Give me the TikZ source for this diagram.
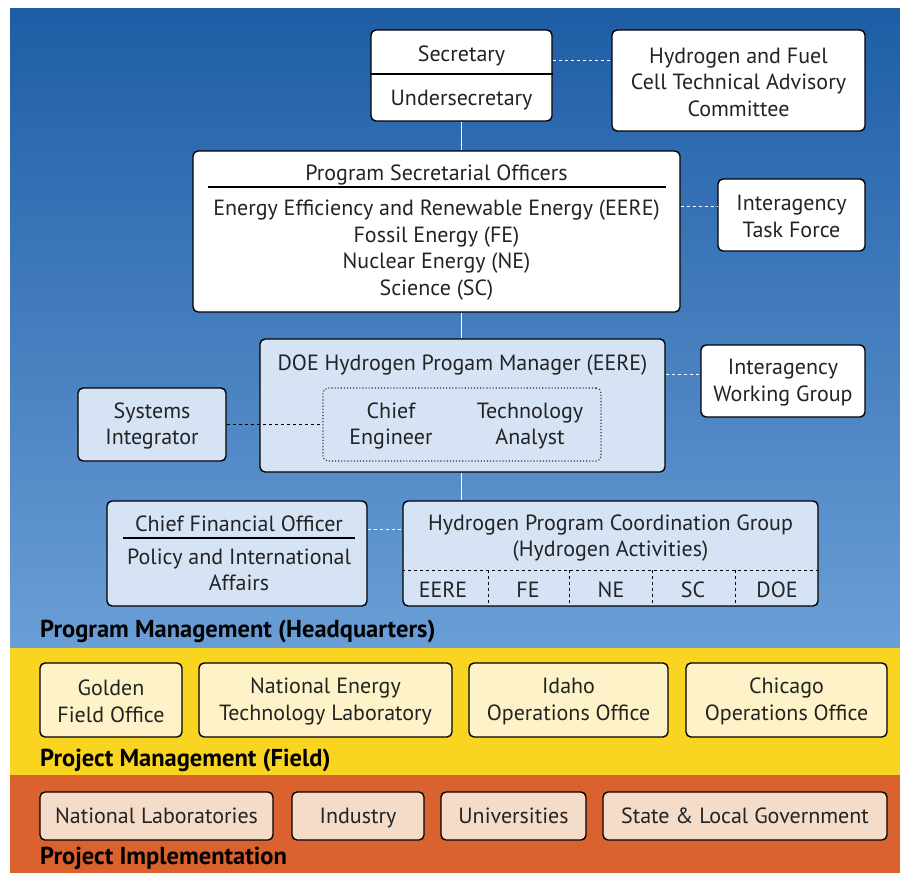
\documentclass[tikz,border=0pt]{standalone}
\usepackage{fontspec}
\setmainfont{PT Sans}
\definecolor{bgtop}{RGB}{30,93,165}
\definecolor{bgbot}{RGB}{106,158,214}
\definecolor{yband}{RGB}{249,212,32}
\definecolor{oband}{RGB}{218,98,46}
\definecolor{lblue}{RGB}{214,227,245}
\definecolor{cream}{RGB}{254,242,200}
\definecolor{peach}{RGB}{245,220,200}
\definecolor{ink}{RGB}{35,35,35}
\begin{document}
\begin{tikzpicture}[x=1pt,y=-1pt,
  box/.style={draw=black, line width=1.4pt, rounded corners=5pt, inner sep=0pt},
  txt/.style={font=\fontsize{22}{26.5}\selectfont, align=center, inner sep=0pt, text=ink},
  tx/.style={txt, yshift=-1.5pt},
  t1/.style={txt, text height=15.4pt, text depth=0pt},
  lbl/.style={font=\fontsize{24.5}{28}\selectfont\bfseries, anchor=west, inner sep=0pt, text=black, text height=16.5pt, text depth=0pt},
  wlink/.style={draw=white, line width=1pt, dash pattern=on 3pt off 3pt},
  kdash/.style={draw=black, line width=1.2pt, dash pattern=on 3pt off 3pt},
  vline/.style={draw=white, line width=1.3pt}]
% background bands
\fill[white] (0,0) rectangle (900,873);
\shade[top color=bgtop, bottom color=bgbot] (10,8) rectangle (900,648);
\fill[yband] (10,648) rectangle (900,775);
\fill[oband] (10,775) rectangle (900,873);

% top level
\node[box, fill=white, minimum width=181pt, minimum height=91pt] (sec) at (461.5,75.5) {};
\draw[line width=1.2pt] (sec.west |- 0,74) -- (sec.east |- 0,74);
\node[t1] (secT) at (461.5,54) {Secretary};
\node[t1] (usecT) at (461.5,98) {Undersecretary};

\node[box, fill=white, minimum width=253pt, minimum height=101pt] (hfc) at (738.5,80.5) {};
\node[tx] (hfcT) at (hfc) {Hydrogen and Fuel\\Cell Technical Advisory\\Committee};

\node[box, fill=white, minimum width=487pt, minimum height=161pt] (pso) at (436.5,231.5) {};
\node[t1] (psoH) at (436.5,173) {Program Secretarial Officers};
\draw[line width=1.2pt] (208,187) -- (666,187);
\node[tx] (psoB) at (436.5,248.5) {Energy Efficiency and Renewable Energy (EERE)\\Fossil Energy (FE)\\Nuclear Energy (NE)\\Science (SC)};

\node[box, fill=white, minimum width=147pt, minimum height=72pt] (itf) at (791.5,215) {};
\node[tx] (itfT) at (itf) {Interagency\\Task Force};

% DOE manager
\node[box, fill=lblue, minimum width=405pt, minimum height=133pt] (doe) at (462.5,405.5) {};
\node[t1] (doeT) at (462.5,363) {DOE Hydrogen Progam Manager (EERE)};
\node[draw=black!80, line width=1.1pt, dotted, rounded corners=5pt, minimum width=278pt, minimum height=73pt, inner sep=0pt] (inner) at (462,424.5) {};
\node[tx] (ce) at (391,424.5) {Chief\\Engineer};
\node[tx] (ta) at (530,424.5) {Technology\\Analyst};

\node[box, fill=white, minimum width=164pt, minimum height=72pt] (iwg) at (783,381) {};
\node[tx] (iwgT) at (iwg) {Interagency\\Working Group};
\node[box, fill=lblue, minimum width=148pt, minimum height=73pt] (si) at (152,424.5) {};
\node[tx] (siT) at (si) {Systems\\Integrator};

% CFO and HPCG
\node[box, fill=lblue, minimum width=260pt, minimum height=105pt] (cfo) at (237,553.5) {};
\node[t1] (cfoH) at (239,524) {Chief Financial Officer};
\draw[line width=1.2pt] (123,538) -- (355,538);
\node[tx] (cfoB) at (239,568.5) {Policy and International\\Affairs};

\node[box, fill=lblue, minimum width=415pt, minimum height=105pt] (hpcg) at (610.5,553.5) {};
\node[tx] (hpcgT) at (610.5,536.5) {Hydrogen Program Coordination Group\\(Hydrogen Activities)};
\draw[kdash, line width=1pt] (hpcg.west |- 0,570) -- (hpcg.east |- 0,570);
\foreach \xx in {488,569,652,735} \draw[kdash, line width=1pt] (\xx,570) -- (\xx,606);
\node[t1] (c1) at (443,590) {EERE};
\node[t1] (c2) at (528,590) {FE};
\node[t1] (c3) at (611,590) {NE};
\node[t1] (c4) at (693,590) {SC};
\node[t1] (c5) at (777,590) {DOE};

\node[lbl] (pmhq) at (40,629) {Program Management (Headquarters)};

% field
\node[box, fill=cream, minimum width=142pt, minimum height=74pt] (gold) at (111,700) {};
\node[tx] (goldT) at (gold) {Golden\\Field Office};
\node[box, fill=cream, minimum width=253pt, minimum height=74pt] (netl) at (325.5,700) {};
\node[tx] (netlT) at (netl) {National Energy\\Technology Laboratory};
\node[box, fill=cream, minimum width=199pt, minimum height=74pt] (idaho) at (568.5,700) {};
\node[tx] (idahoT) at (idaho) {Idaho\\Operations Office};
\node[box, fill=cream, minimum width=201pt, minimum height=74pt] (chic) at (786.5,700) {};
\node[tx] (chicT) at (chic) {Chicago\\Operations Office};
\node[lbl] (pmf) at (40,758) {Project Management (Field)};

% implementation
\node[box, fill=peach, minimum width=233pt, minimum height=48pt] (natlab) at (156.5,816) {};
\node[t1] (natlabT) at (natlab) {National Laboratories};
\node[box, fill=peach, minimum width=132pt, minimum height=48pt] (ind) at (358,816) {};
\node[t1] (indT) at (ind) {Industry};
\node[box, fill=peach, minimum width=145pt, minimum height=48pt] (univ) at (513.5,816) {};
\node[t1] (univT) at (univ) {Universities};
\node[box, fill=peach, minimum width=284pt, minimum height=48pt] (state) at (745,816) {};
\node[t1] (stateT) at (state) {State \& Local Government};
\node[lbl] (pimp) at (40,856.5) {Project Implementation};

% connectors
\draw[vline] (sec.south) -- (sec.south |- pso.north);
\draw[vline] (sec.south |- pso.south) -- (sec.south |- doe.north);
\draw[vline] (sec.south |- doe.south) -- (sec.south |- hpcg.north);
\coordinate (k1) at ([yshift=-31pt]sec.north east);
\draw[wlink] (k1) -- (k1 -| hfc.west);
\coordinate (k2) at ([yshift=8.5pt]itf.west);
\draw[wlink] (k2 -| pso.east) -- (k2);
\coordinate (k3) at ([yshift=7pt]iwg.west);
\draw[wlink] (k3 -| doe.east) -- (k3);
\draw[kdash] (si.east) -- (inner.west);
\coordinate (k4) at ([yshift=24.5pt]cfo.east);
\draw[wlink] (k4) -- (k4 -| hpcg.west);
\end{tikzpicture}
\end{document}
